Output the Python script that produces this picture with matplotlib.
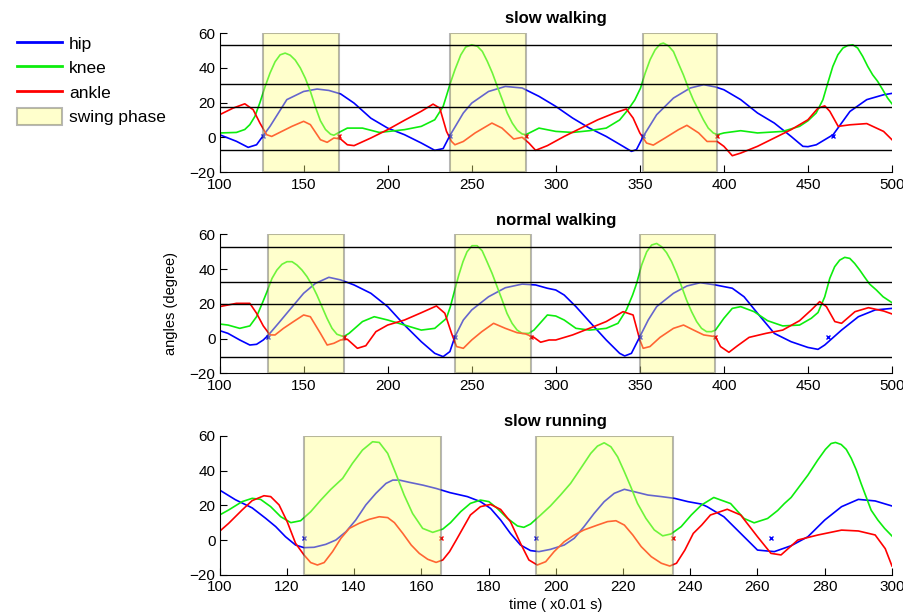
import numpy as np
import matplotlib
matplotlib.use('Agg')
from matplotlib import pyplot as plt
from matplotlib.patches import Patch
from matplotlib.lines import Line2D

plt.rcParams['font.family'] = ['Liberation Sans', 'DejaVu Sans']

#########################################################################################################
#######################################   DATA                ###########################################
#########################################################################################################
# ---- slow walking ----
sw_hip_t = [100, 110, 117, 122, 126, 130, 140, 150, 158, 165, 172, 180, 190, 200, 210, 220, 228, 233, 237,
            245, 250, 260, 270, 280, 290, 300, 310, 320, 330, 340, 345, 348, 352, 360, 370, 380, 388, 395,
            400, 410, 420, 430, 440, 447, 450, 455, 465, 475, 485, 495, 500]
sw_hip = [1.5, -2.3, -5.8, -4.3, 1.0, 6.3, 21.7, 26.4, 27.8, 27.0, 25.0, 19.7, 11.0, 5.3, 1.5, -3.3, -7.5, -6.5, 1.0,
          14.0, 19.7, 26.4, 29.3, 28.4, 23.6, 17.8, 11.1, 5.3, 0.5, -5.2, -8.1, -7.1, 0.5, 13.0, 22.6, 28.4, 30.3, 29.0,
          27.4, 21.7, 14.0, 8.2, 0.5, -5.2, -5.4, -4.3, 1.5, 14.9, 21.7, 24.5, 25.3]
sw_knee_t = [100, 110, 115, 118, 121, 124, 127, 130, 133, 136, 139, 142, 145, 148, 151, 154, 157, 160, 163, 166,
             168, 171, 176, 185, 195, 210, 220, 228, 233, 235, 237.2, 240, 243.5, 246.4, 250, 253.4, 256.3, 259.3,
             262.3, 265.2, 268.2, 271.1, 274.1, 277.1, 280, 282.2, 290, 300, 310, 320, 330, 338, 343, 347, 350.4,
             353.2, 356.1, 359.1, 362.1, 364, 367, 370, 372.9, 375.9, 378.9, 381.8, 384.8, 387.8, 390.7, 393.7,
             396.2, 400, 410, 420, 435, 445, 450, 454.9, 458.9, 461.8, 464.8, 467.8, 470.8, 473.7, 476.7, 479.6,
             482.6, 485.6, 488.5, 491.5, 494.5, 497.4, 500]
sw_knee = [2.5, 2.8, 4.5, 7.3, 12.0, 20.0, 29.0, 37.0, 43.5, 47.5, 48.5, 47.3, 44.5, 40.0, 34.0, 26.5, 17.5, 9.5, 4.5, 1.8,
           1.2, 2.8, 5.3, 5.3, 2.8, 4.4, 6.3, 10.1, 17.8, 24.0, 31.0, 38.9, 47.5, 52.0, 53.3, 52.4, 49.5, 43.7,
           37.0, 29.3, 21.6, 14.0, 8.2, 4.0, 1.9, 1.5, 5.3, 3.4, 2.8, 3.8, 5.3, 10.0, 15.9, 21.5, 28.3,
           37.0, 44.7, 50.4, 53.7, 54.3, 52.7, 49.4, 42.7, 36.0, 28.3, 21.6, 15.9, 10.1, 5.3, 2.5,
           1.5, 2.5, 3.8, 2.5, 3.4, 6.3, 9.5, 14.0, 21.6, 31.2, 40.8, 47.5, 51.4, 52.9, 53.3, 51.4,
           46.6, 40.8, 36.0, 32.2, 27.4, 22.6, 19.3]
sw_ankle_t = [100, 108, 115, 120, 124, 128, 131, 137, 143, 150, 154, 160, 164, 168, 172, 176, 180, 190, 200, 210,
              220, 227, 231, 235, 238, 240, 245, 252, 262, 268, 275, 280, 284, 288, 295, 305, 315, 325, 335, 342,
              346, 350, 354, 358, 365, 373, 378, 385, 390, 396, 400, 405, 410, 420, 430, 440, 450, 456, 460, 463,
              468, 475, 485, 495, 500]
sw_ankle = [13.0, 16.8, 19.3, 15.9, 8.2, 1.5, 0.5, 3.4, 6.3, 9.2, 7.3, -1.4, -2.9, -0.4, -1.0, -4.3, -4.8, -0.4, 4.4, 9.8,
            15.0, 19.1, 16.8, 3.4, -2.4, -4.3, -2.4, 2.5, 8.2, 5.3, -1.0, 0.0, -3.3, -7.5, -4.8, 0.5, 5.3, 10.1, 14.0, 16.3,
            11.1, 2.5, -3.3, -4.5, -0.4, 4.4, 6.9, 2.5, -2.4, -2.4, -5.2, -10.6, -9.1, -5.2, -0.4, 4.4, 10.1, 16.8, 18.1, 15.0,
            6.3, 7.2, 7.9, 3.4, -1.4]
sw_swing = [(126, 171), (237, 282), (352, 396)]
sw_hip_marks = [126, 237, 352, 465]
sw_ankle_marks = [171, 282, 396]
sw_levels = [53.1, 30.9, 17.2, -7.3]

# ---- normal walking ----
nw_hip_t = [100, 105, 112, 118, 122, 126, 129, 135, 140, 150, 157, 165, 172, 180, 190, 200, 210, 220, 228, 233, 237,
            240, 245, 250, 260, 270, 280, 288, 295, 300, 305, 312, 320, 330, 338, 341, 345, 350, 355, 360, 370,
            378, 386, 395, 405, 412, 420, 430, 440, 450, 456, 460, 470, 480, 490, 500]
nw_hip = [4.6, 3.0, -0.8, -3.7, -3.3, -0.8, 2.0, 8.8, 14.6, 26.1, 31.8, 35.3, 33.8, 30.9, 26.1, 18.4, 7.8, -1.8, -8.5,
          -10.4, -7.5, 1.1, 10.7, 16.5, 24.1, 29.3, 31.4, 30.9, 29.0, 28.0, 25.1, 18.4, 9.8, -0.8, -8.5, -10.0, -8.5, 1.1,
          10.7, 18.4, 26.1, 30.3, 32.2, 30.9, 29.0, 24.1, 14.6, 3.0, -1.8, -5.1, -6.2, -3.7, 4.9, 12.6, 16.5, 17.4]
nw_knee_t = [100, 105, 112, 118, 122, 125.8, 128.2, 131.2, 134.1, 137.1, 140.1, 143.1, 146, 149, 152, 155, 157.9,
             160.9, 163.9, 166.9, 169.8, 173.8, 177, 185, 192, 200, 210, 220, 228, 234.9, 237.3, 239.9, 242.3,
             244.8, 247.2, 250.2, 253.2, 256.2, 259.1, 262.1, 265.1, 268.1, 271, 274, 277, 280, 283.9, 287, 295,
             300, 305, 312, 320, 330, 337, 342, 345.7, 348.1, 351.1, 354.1, 357, 360, 363, 365.9, 368.9, 371.9,
             374.9, 377.8, 380.8, 383.8, 386.7, 389.7, 392.7, 395, 400, 405, 410, 418, 426, 435, 445, 452, 456,
             460, 463, 465.9, 468.9, 471.9, 474.9, 477.8, 480.8, 483.8, 486.7, 490.7, 494.7, 500]
nw_knee = [8.4, 7.8, 5.9, 7.3, 12.6, 21.3, 27.0, 34.7, 39.5, 42.8, 44.3, 44.3, 42.4, 39.5, 35.7, 30.8, 25.1,
           18.4, 11.7, 5.9, 2.5, 1.1, 3.0, 9.8, 12.6, 10.7, 7.8, 4.9, 5.9, 11.6, 18.4, 28.0, 36.6,
           44.3, 50.0, 53.5, 53.5, 50.6, 44.3, 37.6, 29.9, 22.2, 14.5, 8.8, 4.9, 3.0, 3.0, 4.9, 13.6,
           13.0, 10.7, 5.9, 4.9, 5.9, 8.8, 16.5, 25.1, 31.8, 42.4, 50.0, 53.9, 54.8, 52.9, 49.5, 44.3, 37.6,
           29.9, 22.2, 15.5, 9.8, 5.9, 4.0, 4.0, 4.9, 11.7, 17.4, 18.4, 15.5, 10.3, 7.3, 7.8, 11.7, 15.0,
           24.1, 34.7, 41.4, 45.2, 46.8, 46.2, 43.3, 39.5, 35.3, 31.4, 28.0, 24.1, 20.7]
nw_ankle_t = [100, 110, 118, 122, 126, 130, 133, 138, 144, 150, 154, 160, 164, 168, 172, 176, 182, 187, 193, 200, 210,
              220, 229, 234, 238, 241, 245, 250, 256, 263, 270, 277, 282, 287, 291, 296, 300, 310, 320, 330, 340,
              346, 350, 352, 356, 362, 370, 376, 382, 388, 395, 398, 403, 408, 415, 425, 435, 445, 452, 457, 461,
              466, 470, 478, 486, 495, 500]
nw_ankle = [18.4, 20.3, 20.3, 14.6, 7.3, 2.1, 2.1, 5.9, 9.8, 13.6, 12.6, 3.0, -3.7, -2.7, -0.8, -0.4, -5.6, -4.1, 4.0,
            7.8, 10.7, 14.9, 18.8, 14.6, 3.0, -4.6, -5.6, -0.8, 4.0, 8.8, 5.9, 3.4, 2.7, 0.7, -2.1, -0.8, -0.8, 2.1, 5.9,
            9.8, 15.5, 13.6, -0.8, -5.6, -4.6, 0.7, 5.9, 7.8, 4.9, 2.1, 1.1, -4.6, -7.9, -4.2, 0.7, 3.0, 4.9, 10.3, 16.5,
            21.3, 18.4, 9.8, 8.8, 15.5, 17.8, 15.9, 14.2]
nw_swing = [(129, 174), (240, 285), (350, 395)]
nw_hip_marks = [129, 240, 350, 462]
nw_ankle_marks = [174, 285, 395]
nw_levels = [52.8, 32.4, 19.9, -10.8]

# ---- slow running ----
sr_hip_t = [100, 104.7, 109.7, 113.7, 116.7, 119.6, 122.6, 125.1, 128.1, 131.6, 134.6, 137.6, 140.5, 143.5, 146.5,
            149.5, 151.5, 153.5, 156.5, 160.5, 164.4, 168.5, 173.7, 177.6, 180.6, 183.6, 186.5, 189.5, 192.5, 195,
            198.4, 202.5, 205.5, 208.4, 211.4, 214.4, 217.4, 220.4, 223.4, 227.4, 231.4, 235.3, 239.3, 243.3, 245,
            250, 255, 260, 265, 270, 275, 280, 285, 290, 295, 300]
sr_hip = [28.8, 23.2, 18.5, 12.5, 7.7, 1.9, -2.9, -4.4, -4.2, -2.5, 0.0, 4.8, 11.5, 20.2, 26.9,
          32.6, 34.5, 34.5, 33.2, 31.6, 29.7, 27.3, 25.0, 22.1, 18.2, 11.5, 3.8, -2.9, -6.1, -6.7,
          -5.4, -2.9, 1.0, 7.7, 15.3, 22.1, 26.9, 29.2, 27.8, 25.9, 25.0, 24.0, 22.1, 20.7, 19.2,
          13.4, 3.8, -5.8, -6.7, -3.3, 1.9, 11.5, 19.2, 23.4, 22.5, 19.6]
sr_knee_t = [100, 102.7, 106.7, 109.7, 112.2, 115.2, 118.2, 121.2, 124.1, 127.1, 130.1, 133.1, 136.6, 139.5, 142.5,
             145.5, 147.5, 150, 152.4, 154.9, 157.4, 160.4, 163.4, 166.4, 168.7, 171.7, 174.6, 177.6, 180.1, 182.6,
             185.6, 188.6, 190.5, 192.5, 195.5, 198.4, 201.4, 204.4, 207.4, 210.4, 212.4, 214.4, 216.4, 218.4,
             220.4, 222.3, 224.3, 226.8, 229.3, 231.8, 234.3, 237.3, 240.3, 243.3, 247, 252, 256, 259, 263, 266,
             268, 270, 275, 277.9, 280.2, 281.9, 283.2, 284.9, 286.4, 287.9, 289.4, 290.8, 292.3, 293.8, 295.8,
             297.8, 300]
sr_knee = [14.4, 17.3, 22.1, 24.0, 23.4, 19.2, 13.4, 10.0, 11.1, 16.3, 23.0, 29.2, 35.5, 44.1, 51.8,
           56.6, 56.2, 49.9, 38.4, 25.9, 15.3, 6.7, 4.4, 6.3, 10.0, 16.3, 21.1, 23.0, 22.1, 18.2,
           12.5, 8.1, 7.3, 9.2, 14.4, 19.6, 25.9, 32.6, 41.2, 49.9, 54.1, 56.0, 53.7, 47.9,
           39.3, 30.7, 21.1, 12.5, 5.8, 2.4, 3.5, 7.7, 14.4, 20.1, 24.5, 21.0, 12.4, 9.9, 12.4, 17.0,
           21.0, 24.5, 37.4, 46.0, 52.2, 55.6, 56.2, 55.0, 52.2, 47.0, 40.3, 32.6, 24.9, 17.2, 11.5,
           6.7, 2.3]
sr_ankle_t = [100, 102.7, 106.7, 109.7, 113.2, 115.2, 117.7, 120.1, 122.6, 125.1, 127.1, 129.1, 131.1, 133.6, 136.1,
              138.6, 141.5, 144.5, 147.5, 150, 152, 154.5, 157, 159.4, 161.9, 164.4, 166.4, 168.4, 170.4, 174.6,
              177.6, 180.6, 183.6, 186.5, 189.5, 192, 194.5, 197, 199.5, 202.5, 205.5, 208.4, 212.4, 215.4, 217.9,
              220.4, 222.9, 225.4, 228.4, 231.4, 233.9, 235.9, 238.4, 240.9, 243.4, 246, 251, 255, 260, 264, 267,
              272, 278, 285, 290, 295, 298, 300]
sr_ankle = [5.0, 9.6, 17.3, 22.7, 25.5, 25.0, 20.2, 10.6, -1.9, -8.6, -13.0, -14.4, -13.0, -6.7, 1.0,
            6.7, 9.6, 11.9, 13.4, 12.9, 10.0, 3.8, -2.9, -7.7, -11.1, -12.9, -11.5, -6.7, 0.0, 14.4,
            19.2, 20.5, 17.6, 10.6, -1.9, -11.5, -14.4, -12.5, -6.7, -1.0, 2.9, 5.8, 8.6, 10.6, 11.1,
            8.6, 2.9, -3.8, -9.6, -13.4, -15.0, -13.4, -5.8, 3.8, 8.6, 14.4, 17.7, 14.4, 1.9, -7.7, -8.6,
            0.0, 2.9, 5.7, 5.2, 2.9, -5.0, -15.0]
sr_swing = [(125, 166), (194, 235)]
sr_hip_marks = [125, 194, 264]
sr_ankle_marks = [166, 235]
sr_levels = []

mark_y = 1.0

titles = ['slow walking', 'normal walking', 'slow running']
xlims = [(100, 500), (100, 500), (100, 300)]
xsteps = [50, 50, 20]

#########################################################################################################
#######################################   PLOTTING            ###########################################
#########################################################################################################
panels = [
    dict(hip=(sw_hip_t, sw_hip), knee=(sw_knee_t, sw_knee), ankle=(sw_ankle_t, sw_ankle),
         swing=sw_swing, hm=sw_hip_marks, am=sw_ankle_marks, levels=sw_levels),
    dict(hip=(nw_hip_t, nw_hip), knee=(nw_knee_t, nw_knee), ankle=(nw_ankle_t, nw_ankle),
         swing=nw_swing, hm=nw_hip_marks, am=nw_ankle_marks, levels=nw_levels),
    dict(hip=(sr_hip_t, sr_hip), knee=(sr_knee_t, sr_knee), ankle=(sr_ankle_t, sr_ankle),
         swing=sr_swing, hm=sr_hip_marks, am=sr_ankle_marks, levels=sr_levels),
]

col_hip = (0, 0, 1)
col_knee = (0.05, 0.93, 0.05)
col_ankle = (1, 0, 0)
swing_face = (1, 1, 0.5)
swing_alpha = 0.4

fig = plt.figure(figsize=(9.04, 6.15), dpi=100)
ax_bottoms = [0.7203, 0.393, 0.0655]
axes = []
for i, p in enumerate(panels):
    ax = fig.add_axes([0.2429, ax_bottoms[i], 0.7438, 0.2258])
    axes.append(ax)
    ax.plot(*p['hip'], color=col_hip, lw=1.2, zorder=2)
    ax.plot(*p['knee'], color=col_knee, lw=1.2, zorder=2)
    ax.plot(*p['ankle'], color=col_ankle, lw=1.2, zorder=2)
    ax.plot(p['hm'], [mark_y] * len(p['hm']), 'x', color=col_hip, ms=3.5, mew=1, zorder=2)
    ax.plot(p['am'], [mark_y] * len(p['am']), 'x', color=col_ankle, ms=3.5, mew=1, zorder=2)
    # swing phase boxes sit over the curves, semi transparent
    for (s0, s1) in p['swing']:
        ax.axvspan(s0, s1, ymin=0, ymax=1, facecolor=swing_face, edgecolor='0.3',
                   lw=1.5, alpha=swing_alpha, zorder=3)
    for lv in p['levels']:
        ax.axhline(lv, color='k', lw=1, zorder=4)

    ax.set_xlim(*xlims[i])
    ax.set_ylim(-20, 60)
    ax.set_xticks(np.arange(xlims[i][0], xlims[i][1] + 1, xsteps[i]))
    ax.set_yticks([-20, 0, 20, 40, 60])
    ax.spines['top'].set_visible(False)
    ax.spines['right'].set_visible(False)
    ax.tick_params(direction='in', length=5, labelsize=11)
    ax.tick_params(axis='x', pad=4)
    ax.tick_params(axis='y', pad=3)
    ax.set_title(titles[i], fontsize=12, fontweight='bold', pad=7)

axes[1].set_ylabel('angles (degree)', fontsize=10.5, labelpad=8)
axes[2].set_xlabel('time ( x0.01 s)', fontsize=10.5, labelpad=3)

handles = [Line2D([], [], color=col_hip, lw=2),
           Line2D([], [], color=col_knee, lw=2),
           Line2D([], [], color=col_ankle, lw=2),
           Patch(facecolor=swing_face, edgecolor='0.3', lw=1.5, alpha=swing_alpha)]
fig.legend(handles, ['hip', 'knee', 'ankle', 'swing phase'], loc='upper left',
           bbox_to_anchor=(0.0185, 0.944), frameon=False, fontsize=12.5,
           borderaxespad=0, borderpad=0,
           handlelength=2.6, handleheight=1.1, labelspacing=0.42, handletextpad=0.4)

plt.savefig('out.png', dpi=100)
